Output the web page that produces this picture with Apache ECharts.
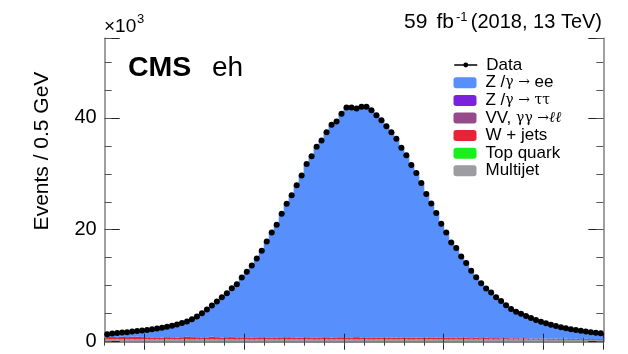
<!DOCTYPE html>
<html>
<head>
<meta charset="utf-8">
<script src="https://cdn.jsdelivr.net/npm/echarts@6/dist/echarts.min.js"></script>
<style>
  html, body { margin: 0; padding: 0; background: #fff; }
  #main { width: 628px; height: 354px; }
</style>
</head>
<body>
<div id="main"></div>
<script>
// bins: 0.5 GeV wide, 66 -> 116 GeV
var binLow = 66
var binWidth = 0.5
var nBins = 100
var categories = []
for (var i = 0; i < nBins; i++) categories.push((binLow + binWidth * (i + 0.5)).toFixed(2))

// y tick labels (x10^3)
var yTickLabels = [0, 20, 40]

// observed events (x10^3)
var dataValues = [
  1.35, 1.45, 1.55, 1.63, 1.71, 1.80, 1.90, 2.00, 2.11, 2.23,
  2.36, 2.50, 2.66, 2.85, 3.06, 3.32, 3.62, 4.00, 4.50, 5.10,
  5.75, 6.45, 7.16, 7.95, 8.67, 9.56, 10.28, 11.46, 12.48, 13.61,
  14.86, 16.24, 17.90, 19.52, 20.90, 22.87, 24.66, 26.14, 27.93, 29.67,
  31.76, 33.12, 34.81, 35.94, 37.42, 38.75, 39.34, 40.72, 41.84, 41.84,
  41.67, 41.97, 41.97, 41.36, 40.47, 39.57, 38.50, 37.42, 36.24, 34.63,
  33.30, 31.58, 30.15, 28.36, 26.39, 24.70, 22.99, 21.07, 19.52, 17.73,
  16.72, 15.22, 14.04, 12.66, 11.53, 10.46, 9.49, 8.77, 7.95, 7.29,
  6.52, 5.85, 5.37, 5.00, 4.60, 4.24, 3.89, 3.58, 3.29, 3.04,
  2.81, 2.58, 2.40, 2.22, 2.09, 1.95, 1.83, 1.70, 1.60, 1.50
]

// Z/gamma -> ee
var zeeValues = [
  0.50, 0.60, 0.70, 0.78, 0.86, 0.95, 1.05, 1.15, 1.26, 1.38,
  1.51, 1.65, 1.81, 2.00, 2.21, 2.47, 2.77, 3.15, 3.65, 4.25,
  5.00, 5.70, 6.41, 7.20, 7.92, 8.81, 9.53, 10.71, 11.73, 12.86,
  14.11, 15.49, 17.15, 18.77, 20.15, 22.12, 23.91, 25.39, 27.18, 28.92,
  31.01, 32.37, 34.06, 35.19, 36.67, 38.00, 38.59, 39.97, 41.09, 41.09,
  40.97, 41.27, 41.27, 40.66, 39.77, 38.87, 37.80, 36.72, 35.54, 33.93,
  32.60, 30.88, 29.45, 27.66, 25.69, 24.00, 22.29, 20.37, 18.82, 17.03,
  16.02, 14.52, 13.34, 11.96, 10.83, 9.76, 8.79, 8.07, 7.25, 6.59,
  5.97, 5.30, 4.82, 4.45, 4.05, 3.69, 3.34, 3.03, 2.74, 2.49,
  2.26, 2.03, 1.85, 1.67, 1.54, 1.40, 1.28, 1.15, 1.05, 0.95
]

// Z/gamma -> tautau
var ztautauValues = [
  0.03, 0.02, 0.04, 0.03, 0.02, 0.05, 0.03, 0.02, 0.03, 0.04,
  0.02, 0.03, 0.02, 0.04, 0.03, 0.02, 0.05, 0.03, 0.02, 0.03,
  0.04, 0.02, 0.03, 0.02, 0.03, 0.04, 0.02, 0.03, 0.02, 0.03,
  0.02, 0.04, 0.03, 0.02, 0.03, 0.02, 0.03, 0.04, 0.02, 0.03,
  0.02, 0.03, 0.02, 0.03, 0.04, 0.02, 0.03, 0.02, 0.03, 0.02,
  0.03, 0.02, 0.04, 0.03, 0.02, 0.03, 0.02, 0.03, 0.02, 0.04,
  0.02, 0.03, 0.02, 0.03, 0.02, 0.03, 0.04, 0.02, 0.03, 0.02,
  0.03, 0.02, 0.03, 0.02, 0.04, 0.02, 0.03, 0.02, 0.03, 0.02,
  0.02, 0.03, 0.02, 0.02, 0.03, 0.02, 0.02, 0.03, 0.02, 0.02,
  0.02, 0.02, 0.03, 0.02, 0.02, 0.02, 0.02, 0.02, 0.02, 0.02
]

// VV, gamma gamma -> ll
var vvValues = [
  0.01, 0.01, 0.02, 0.01, 0.01, 0.01, 0.02, 0.01, 0.01, 0.01,
  0.01, 0.02, 0.01, 0.01, 0.01, 0.01, 0.02, 0.01, 0.01, 0.01,
  0.01, 0.01, 0.02, 0.01, 0.01, 0.01, 0.01, 0.02, 0.01, 0.01,
  0.01, 0.01, 0.01, 0.02, 0.01, 0.01, 0.01, 0.01, 0.02, 0.01,
  0.01, 0.01, 0.01, 0.01, 0.02, 0.01, 0.01, 0.01, 0.01, 0.02,
  0.01, 0.01, 0.01, 0.01, 0.02, 0.01, 0.01, 0.01, 0.01, 0.02,
  0.01, 0.01, 0.01, 0.01, 0.02, 0.01, 0.01, 0.01, 0.01, 0.01,
  0.02, 0.01, 0.01, 0.01, 0.01, 0.01, 0.02, 0.01, 0.01, 0.01,
  0.01, 0.01, 0.01, 0.02, 0.01, 0.01, 0.01, 0.01, 0.01, 0.01,
  0.02, 0.01, 0.01, 0.01, 0.01, 0.01, 0.01, 0.01, 0.01, 0.01
]

// W + jets
var wjetsValues = [
  0.40, 0.42, 0.38, 0.45, 0.40, 0.44, 0.47, 0.41, 0.36, 0.34,
  0.36, 0.33, 0.38, 0.35, 0.32, 0.36, 0.48, 0.42, 0.36, 0.33,
  0.35, 0.45, 0.38, 0.32, 0.35, 0.40, 0.36, 0.33, 0.35, 0.31,
  0.34, 0.37, 0.33, 0.30, 0.34, 0.36, 0.39, 0.33, 0.30, 0.32,
  0.35, 0.31, 0.29, 0.33, 0.36, 0.30, 0.33, 0.38, 0.34, 0.31,
  0.42, 0.33, 0.30, 0.28, 0.32, 0.29, 0.34, 0.30, 0.27, 0.31,
  0.28, 0.33, 0.29, 0.26, 0.30, 0.32, 0.27, 0.25, 0.28, 0.26,
  0.24, 0.27, 0.25, 0.23, 0.26, 0.22, 0.24, 0.21, 0.23, 0.20,
  0.22, 0.19, 0.21, 0.18, 0.20, 0.17, 0.19, 0.16, 0.18, 0.15,
  0.17, 0.15, 0.16, 0.14, 0.15, 0.13, 0.15, 0.14, 0.13, 0.14
]

// top quark
var topValues = [
  0.01, 0.01, 0.01, 0.01, 0.01, 0.01, 0.01, 0.01, 0.01, 0.01,
  0.01, 0.01, 0.01, 0.01, 0.01, 0.01, 0.01, 0.01, 0.01, 0.01,
  0.01, 0.01, 0.01, 0.01, 0.01, 0.01, 0.01, 0.01, 0.01, 0.01,
  0.01, 0.01, 0.01, 0.01, 0.01, 0.01, 0.01, 0.01, 0.01, 0.01,
  0.01, 0.01, 0.01, 0.01, 0.01, 0.01, 0.01, 0.01, 0.01, 0.01,
  0.01, 0.01, 0.01, 0.01, 0.01, 0.01, 0.01, 0.01, 0.01, 0.01,
  0.01, 0.01, 0.01, 0.01, 0.01, 0.01, 0.01, 0.01, 0.01, 0.01,
  0.01, 0.01, 0.01, 0.01, 0.01, 0.01, 0.01, 0.01, 0.01, 0.01,
  0.01, 0.01, 0.01, 0.01, 0.01, 0.01, 0.01, 0.01, 0.01, 0.01,
  0.01, 0.01, 0.01, 0.01, 0.01, 0.01, 0.01, 0.01, 0.01, 0.01
]

// multijet
var multijetValues = [
  0.42, 0.40, 0.41, 0.39, 0.40, 0.42, 0.38, 0.40, 0.41, 0.39,
  0.40, 0.38, 0.41, 0.40, 0.39, 0.42, 0.40, 0.38, 0.41, 0.40,
  0.39, 0.41, 0.40, 0.38, 0.42, 0.40, 0.39, 0.41, 0.40, 0.38,
  0.41, 0.39, 0.40, 0.42, 0.39, 0.40, 0.38, 0.41, 0.40, 0.39,
  0.42, 0.40, 0.38, 0.41, 0.39, 0.40, 0.42, 0.39, 0.40, 0.41,
  0.38, 0.40, 0.41, 0.39, 0.40, 0.42, 0.38, 0.40, 0.39, 0.41,
  0.40, 0.38, 0.41, 0.39, 0.40, 0.42, 0.39, 0.40, 0.38, 0.41,
  0.39, 0.40, 0.41, 0.38, 0.40, 0.39, 0.41, 0.40, 0.38, 0.39,
  0.40, 0.38, 0.39, 0.37, 0.38, 0.36, 0.37, 0.35, 0.36, 0.34,
  0.35, 0.33, 0.34, 0.32, 0.33, 0.31, 0.32, 0.30, 0.31, 0.30
]

var FONT = 'Liberation Sans'
var yMax = 54.2

var chart = echarts.init(document.getElementById('main'), null, { renderer: 'canvas' })

var gridRect = { left: 104.7, top: 38.3, width: 498.6, height: 303.4 }
var frameLine = { show: true, lineStyle: { color: '#808080', width: 1.5 } }

// category x axis, ticks every `every` bins starting at bin `start`
function xAx(grid, pos, len, every, start, line) {
  return {
    type: 'category', gridIndex: grid, position: pos, data: categories, boundaryGap: true, z: 20,
    axisLine: line ? frameLine : { show: false },
    axisTick: {
      show: true, inside: true, length: len,
      interval: function (idx) { return idx % every === start },
      lineStyle: { color: len > 5 ? '#222' : '#444', width: 1 }
    },
    axisLabel: { show: false },
    splitLine: { show: false }
  }
}

function yAx(grid, pos, len, interval, labels, line) {
  return {
    type: 'value', gridIndex: grid, position: pos, min: 0, max: yMax, interval: interval, z: 20,
    axisLine: line ? frameLine : { show: false },
    axisTick: { show: true, inside: true, length: len, lineStyle: { color: len > 10 ? '#222' : '#555', width: 1 } },
    axisLabel: {
      show: labels, fontFamily: FONT, fontSize: 20, color: '#000', margin: 8,
      formatter: function (v) { return yTickLabels.indexOf(v) >= 0 ? String(v) : '' }
    },
    splitLine: { show: false }
  }
}

// bars a bit wider than a bin so neighbours overlap (no seams)
function bar(name, values, color) {
  return {
    name: name, type: 'bar', stack: 'mc', xAxisIndex: 0, yAxisIndex: 0,
    data: values, barWidth: 6, barCategoryGap: '0%',
    itemStyle: { color: color },
    emphasis: { disabled: true }
  }
}

var legendNames = {
  'Z/γ → ee': 'Z /{g|γ →} ee',
  'Z/γ → ττ': 'Z /{g|γ →} {g|ττ}',
  'VV, γγ → ℓℓ': 'VV, {g|γγ →}{l|ℓℓ}'
}
var legendText = {
  fontFamily: FONT, fontSize: 17, color: '#000', lineHeight: 17.6, padding: [0, 0, 0, 4],
  rich: {
    g: { fontFamily: 'DejaVu Serif', fontSize: 14, color: '#000', lineHeight: 17.6 },
    l: { fontFamily: 'DejaVu Serif', fontStyle: 'italic', fontSize: 15, color: '#000', lineHeight: 17.6 }
  }
}

var option = {
  animation: false,
  backgroundColor: '#fff',
  grid: [gridRect, gridRect],
  xAxis: [
    xAx(0, 'bottom', 8, 20, 8, true),
    xAx(0, 'top', 8, 20, 8, true),
    xAx(1, 'bottom', 4, 4, 0, false),
    xAx(1, 'top', 4, 4, 0, false)
  ],
  yAxis: [
    yAx(0, 'left', 15, 20, true, true),
    yAx(0, 'right', 15, 20, false, true),
    yAx(1, 'left', 7, 5, false, false),
    yAx(1, 'right', 7, 5, false, false)
  ],
  legend: [
    {
      data: ['Data'], orient: 'vertical', left: 453.5, top: 56.2, padding: 0,
      itemWidth: 23, itemHeight: 6, itemGap: 0, selectedMode: false,
      lineStyle: { color: '#000', width: 1.5, opacity: 1 },
      textStyle: legendText
    },
    {
      data: ['Z/γ → ee', 'Z/γ → ττ', 'VV, γγ → ℓℓ', 'W + jets', 'Top quark', 'Multijet'],
      orient: 'vertical', left: 453.5, top: 74, padding: 0,
      itemWidth: 23, itemHeight: 11, itemGap: 0, selectedMode: false,
      formatter: function (n) { return legendNames[n] || n },
      textStyle: legendText
    }
  ],
  series: [
    bar('Multijet', multijetValues, '#9c9ca1'),
    bar('Top quark', topValues, '#19f019'),
    bar('W + jets', wjetsValues, '#e42536'),
    bar('VV, γγ → ℓℓ', vvValues, '#964a8b'),
    bar('Z/γ → ττ', ztautauValues, '#7a21dd'),
    bar('Z/γ → ee', zeeValues, '#5790fc'),
    {
      name: 'Data', type: 'line', xAxisIndex: 0, yAxisIndex: 0, data: dataValues,
      symbol: 'circle', symbolSize: 6, showAllSymbol: true, z: 30,
      itemStyle: { color: '#000' },
      lineStyle: { color: '#000', width: 1.5, opacity: 0 },
      emphasis: { disabled: true }
    }
  ],
  graphic: [
    // y axis title
    {
      type: 'text', x: 42.5, y: 151, rotation: Math.PI / 2,
      style: { text: 'Events / 0.5 GeV', font: '21px "' + FONT + '"', fill: '#000', textAlign: 'center', textVerticalAlign: 'middle' }
    },
    // exponent
    { type: 'text', x: 104, y: 27, style: { text: '×10', font: '19px "' + FONT + '"', fill: '#000', textAlign: 'left', textVerticalAlign: 'middle' } },
    { type: 'text', x: 137, y: 19, style: { text: '3', font: '13px "' + FONT + '"', fill: '#000', textAlign: 'left', textVerticalAlign: 'middle' } },
    // lumi
    { type: 'text', x: 602, y: 22.5, style: { text: '(2018, 13 TeV)', font: '20px "' + FONT + '"', fill: '#000', textAlign: 'right', textVerticalAlign: 'middle' } },
    { type: 'text', x: 456, y: 17, style: { text: '-1', font: '13px "' + FONT + '"', fill: '#000', textAlign: 'left', textVerticalAlign: 'middle' } },
    { type: 'text', x: 454, y: 22.5, style: { text: 'fb', font: '21px "' + FONT + '"', fill: '#000', textAlign: 'right', textVerticalAlign: 'middle' } },
    { type: 'text', x: 404, y: 22.5, style: { text: '59', font: '21px "' + FONT + '"', fill: '#000', textAlign: 'left', textVerticalAlign: 'middle' } },
    // CMS label
    { type: 'text', x: 128, y: 68.5, style: { text: 'CMS', font: 'bold 28.5px "' + FONT + '"', fill: '#000', textAlign: 'left', textVerticalAlign: 'middle' } },
    { type: 'text', x: 212, y: 68.5, style: { text: 'eh', font: '28px "' + FONT + '"', fill: '#000', textAlign: 'left', textVerticalAlign: 'middle' } }
  ]
}

chart.setOption(option)
</script>
</body>
</html>
